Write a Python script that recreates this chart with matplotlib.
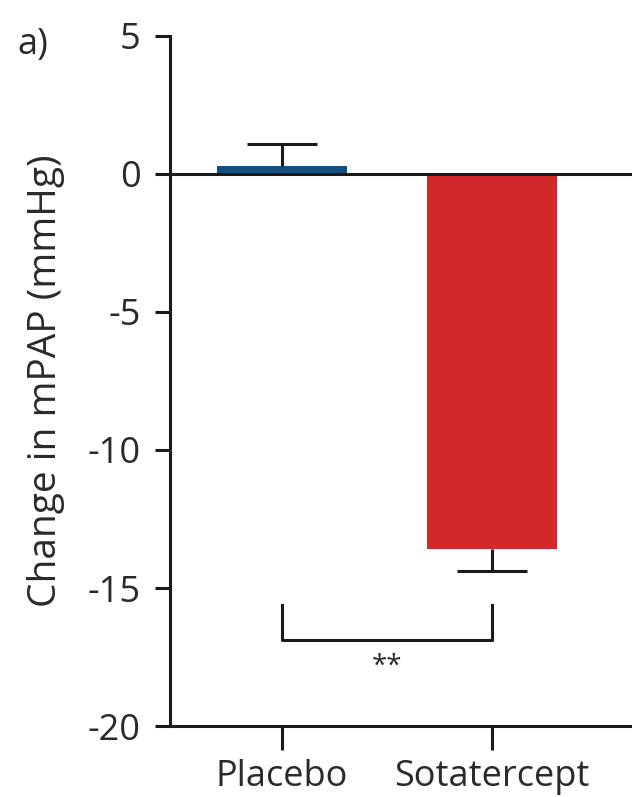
import matplotlib
matplotlib.use("Agg")
import matplotlib.pyplot as plt

# Change in mean pulmonary arterial pressure by treatment group
groups = ["Placebo", "Sotatercept"]
mean_change = [0.3, -13.6]
sem = [0.8, 0.8]
colors = ["#14507f", "#d3282a"]
yticks = [5, 0, -5, -10, -15, -20]
sig_label = "**"
bracket_top = -15.6
bracket_bottom = -16.9

plt.rcParams["font.family"] = ["Open Sans", "DejaVu Sans"]

fig = plt.figure(figsize=(6.32, 7.97), dpi=100)
ax = fig.add_axes([0.269, 0.089, 0.731, 0.866])

x = list(range(len(groups)))
ax.bar(x, mean_change, width=0.62, color=colors, zorder=2)

# One-sided error bars pointing away from zero
cap_half = 0.165
for xi, v, e in zip(x, mean_change, sem):
    end = v + e if v >= 0 else v - e
    ax.vlines(xi, v, end, color="#1a1a1a", lw=2.2, zorder=3)
    ax.hlines(end, xi - cap_half, xi + cap_half, color="#1a1a1a", lw=2.2, zorder=3)

ax.axhline(0, color="#1a1a1a", lw=2.2, zorder=4)

# Significance bracket
ax.plot([x[0], x[0], x[1], x[1]],
        [bracket_top, bracket_bottom, bracket_bottom, bracket_top],
        color="#1a1a1a", lw=2.2)
ax.text((x[0] + x[1]) / 2, bracket_bottom - 0.45, sig_label, ha="center", va="top",
        fontsize=20, color="#2a2a2a")

ax.set_xlim(-0.533, 1.667)
ax.set_ylim(-20, 5)
ax.set_yticks(yticks)
ax.set_yticklabels([str(t) for t in yticks])
ax.set_xticks(x)
ax.set_xticklabels(groups)

for side in ["top", "right"]:
    ax.spines[side].set_visible(False)
for side in ["left", "bottom"]:
    ax.spines[side].set_linewidth(2.2)
    ax.spines[side].set_color("#1a1a1a")

ax.tick_params(axis="y", length=11, width=2.2, color="#1a1a1a", labelsize=26,
               pad=10, labelcolor="#2a2a2a")
ax.tick_params(axis="x", length=17, width=2.2, color="#1a1a1a", labelsize=26,
               pad=7, labelcolor="#2a2a2a")

ax.set_ylabel("Change in mPAP (mmHg)", fontsize=28, color="#2a2a2a", labelpad=16)

fig.text(0.028, 0.944, "a)", fontsize=26, color="#2a2a2a", va="center")

fig.savefig("out.png", dpi=100)
